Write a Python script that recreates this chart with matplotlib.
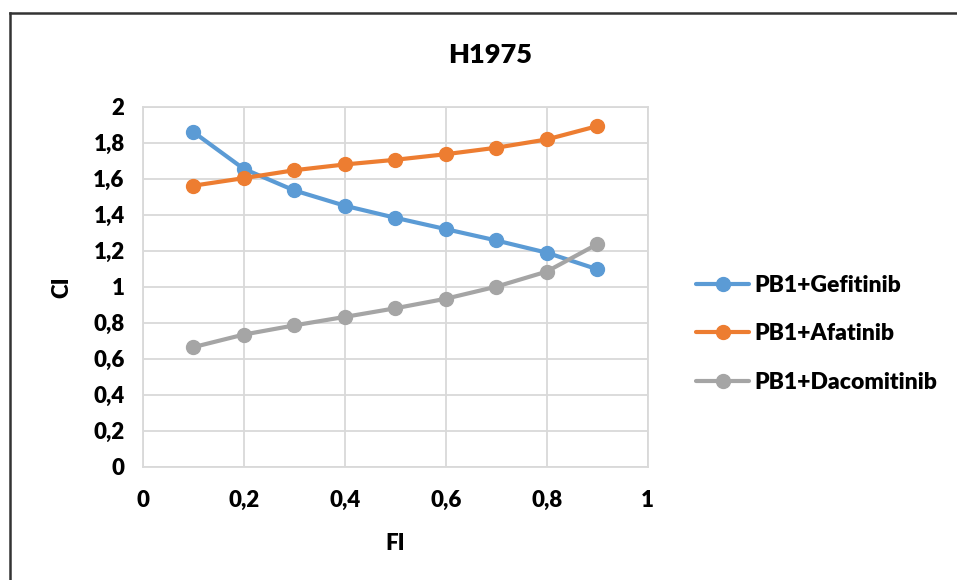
import matplotlib
matplotlib.use("Agg")
import matplotlib.pyplot as plt
from matplotlib.ticker import FuncFormatter, MultipleLocator
from matplotlib.lines import Line2D

plt.rcParams['font.family'] = ['Lato', 'DejaVu Sans']
plt.rcParams['font.weight'] = 'heavy'

fi = [0.1, 0.2, 0.3, 0.4, 0.5, 0.6, 0.7, 0.8, 0.9]
ci_gefitinib = [1.86, 1.655, 1.535, 1.45, 1.383, 1.32, 1.257, 1.189, 1.097]
ci_afatinib = [1.561, 1.603, 1.647, 1.679, 1.705, 1.736, 1.772, 1.818, 1.892]
ci_dacomitinib = [0.664, 0.734, 0.785, 0.832, 0.88, 0.933, 1.0, 1.084, 1.236]

series_names = ["PB1+Gefitinib", "PB1+Afatinib", "PB1+Dacomitinib"]
colors = ["#5B9BD5", "#ED7D31", "#A5A5A5"]

W, H = 957, 580
fig = plt.figure(figsize=(W / 100, H / 100), dpi=100)
ax = fig.add_axes([142.7 / W, 1 - 466.7 / H, 505 / W, 360 / H])

for vals, name, c in zip([ci_gefitinib, ci_afatinib, ci_dacomitinib], series_names, colors):
    ax.plot(fi, vals, color=c, lw=3, marker='o', markersize=10, label=name,
            solid_capstyle='round', zorder=3)

ax.set_xlim(0, 1)
ax.set_ylim(0, 2)
ax.xaxis.set_major_locator(MultipleLocator(0.2))
ax.yaxis.set_major_locator(MultipleLocator(0.2))

def comma_fmt(v, pos):
    s = f"{v:.1f}".rstrip('0').rstrip('.')
    return s.replace('.', ',')

ax.xaxis.set_major_formatter(FuncFormatter(comma_fmt))
ax.yaxis.set_major_formatter(FuncFormatter(comma_fmt))
ax.tick_params(length=0, labelsize=16, colors='black')
ax.tick_params(axis='x', pad=17)
ax.tick_params(axis='y', pad=13)
for lbl in ax.get_xticklabels() + ax.get_yticklabels():
    lbl.set_fontweight('heavy')

ax.grid(True, color='#D9D9D9', lw=1.3)
ax.set_axisbelow(True)
for sp in ax.spines.values():
    sp.set_color('#D9D9D9')
    sp.set_linewidth(1.3)

fig.text(490 / W, 1 - 55 / H, "H1975", ha='center', va='center', fontsize=19.5, fontweight='heavy')
fig.text(62 / W, 1 - 287 / H, "CI", ha='center', va='center', rotation=90, fontsize=16, fontweight='heavy')
fig.text(395 / W, 1 - 543 / H, "FI", ha='center', va='center', fontsize=16, fontweight='heavy')

leg = ax.legend(loc='center left', bbox_to_anchor=(687 / W, 1 - 334 / H),
                bbox_transform=fig.transFigure, frameon=False,
                prop={'size': 16.5, 'weight': 'heavy'},
                handlelength=2.3, labelspacing=1.2, handletextpad=0.25, borderaxespad=0)

# outer chart frame (top and left edges)
fig.add_artist(Line2D([9.5 / W, 1], [1 - 13 / H, 1 - 13 / H], transform=fig.transFigure,
                      color='#333333', lw=1.8))
fig.add_artist(Line2D([9.5 / W, 9.5 / W], [0, 1 - 13 / H], transform=fig.transFigure,
                      color='#333333', lw=1.8))

fig.savefig("out.png", dpi=100, facecolor='white')
